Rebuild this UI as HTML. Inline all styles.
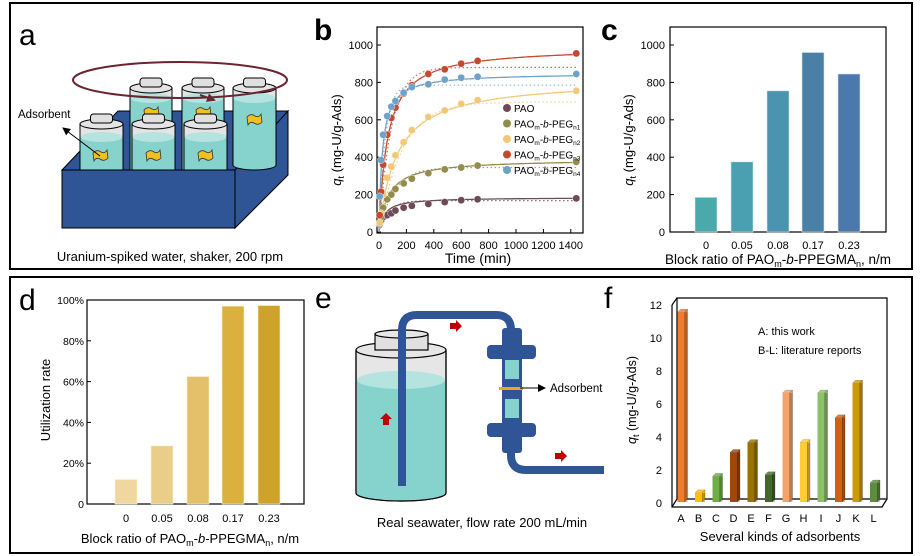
<!DOCTYPE html>
<html><head><meta charset="utf-8"><style>
html,body{margin:0;padding:0;background:#fff;}
svg{display:block;font-family:"Liberation Sans",Arial,sans-serif;}
</style></head><body>
<svg id="s" width="922" height="556" viewBox="0 0 922 556" xmlns="http://www.w3.org/2000/svg">
<defs>
<marker id="ah" markerUnits="userSpaceOnUse" markerWidth="8" markerHeight="8" refX="7" refY="4" orient="auto"><path d="M0,0 L8,4 L0,8 z" fill="#000"/></marker>
<marker id="ah2" markerUnits="userSpaceOnUse" markerWidth="9" markerHeight="9" refX="7" refY="4.5" orient="auto"><path d="M0,0 L9,4.5 L0,9 z" fill="#6b2530"/></marker>
</defs>
<rect x="10" y="3" width="902" height="266" fill="none" stroke="#000" stroke-width="2"/>
<rect x="10" y="277" width="902" height="276" fill="none" stroke="#000" stroke-width="2"/>

<!-- panel a -->
<text x="19" y="45" font-size="30">a</text>
<polygon points="62,170 118,111 288,111 235,170" fill="#2f5597" stroke="#000" stroke-width="1"/>
<polygon points="235,170 288,111 288,175 235,228" fill="#2f5597" stroke="#000" stroke-width="1"/>
<g id="jars"></g>
<ellipse cx="180" cy="80" rx="107" ry="18" fill="none" stroke="#6b2530" stroke-width="2"/>
<line x1="200" y1="95" x2="214" y2="100" stroke="#6b2530" stroke-width="2" marker-end="url(#ah2)"/>
<rect x="62" y="170" width="173" height="58" fill="#2f5597" stroke="#000" stroke-width="1"/>
<text x="18" y="118" font-size="11.5">Adsorbent</text>
<line x1="100" y1="156" x2="63" y2="128" stroke="#000" stroke-width="1" marker-end="url(#ah)"/>
<text x="170" y="261" font-size="13" text-anchor="middle">Uranium-spiked water, shaker, 200 rpm</text>

<!-- panel b -->
<text x="314" y="40" font-size="30" font-weight="bold">b</text>
<rect x="377" y="27" width="206" height="206" fill="none" stroke="#000" stroke-width="1.2"/>
<g id="bplot"></g>
<text transform="translate(341,140) rotate(-90)" font-size="13" text-anchor="middle"><tspan font-style="italic">q</tspan><tspan font-size="9" dy="3">t</tspan><tspan dy="-3"> (mg-U/g-Ads)</tspan></text>
<text x="478" y="263" font-size="14" text-anchor="middle">Time (min)</text>

<!-- panel c -->
<text x="601" y="40" font-size="30" font-weight="bold">c</text>
<rect x="670" y="27" width="216" height="205" fill="none" stroke="#000" stroke-width="1.2"/>
<g id="cplot"></g>
<text transform="translate(633,140) rotate(-90)" font-size="13" text-anchor="middle"><tspan font-style="italic">q</tspan><tspan font-size="9" dy="3">t</tspan><tspan dy="-3"> (mg-U/g-Ads)</tspan></text>
<text x="778" y="264" font-size="13.5" text-anchor="middle">Block ratio of PAO<tspan font-size="9" dy="3">m</tspan><tspan dy="-3">-</tspan><tspan font-style="italic">b</tspan>-PPEGMA<tspan font-size="9" dy="3">n</tspan><tspan dy="-3">, n/m</tspan></text>

<!-- panel d -->
<text x="19" y="310" font-size="30">d</text>
<rect x="87" y="300" width="217" height="204" fill="none" stroke="#000" stroke-width="1.2"/>
<g id="dplot"></g>
<text transform="translate(50,400) rotate(-90)" font-size="13" text-anchor="middle">Utilization rate</text>
<text x="190" y="543" font-size="13" text-anchor="middle">Block ratio of PAO<tspan font-size="9" dy="3">m</tspan><tspan dy="-3">-</tspan><tspan font-style="italic">b</tspan>-PPEGMA<tspan font-size="9" dy="3">n</tspan><tspan dy="-3">, n/m</tspan></text>

<!-- panel e -->
<text x="315" y="308" font-size="30">e</text>
<path d="M356,350 L356,493 A45,8 0 0 0 446,493 L446,350 Z" fill="#e6e6e6" stroke="#000" stroke-width="1.2"/>
<path d="M357,380 L357,493 A44,8 0 0 0 445,493 L445,380 Z" fill="#86d2cc"/>
<ellipse cx="401" cy="380" rx="44" ry="9" fill="#b5e3df"/>
<path d="M356,493 A45,8 0 0 0 446,493" fill="none" stroke="#000" stroke-width="1.2"/>
<ellipse cx="401" cy="350" rx="45" ry="8" fill="#e6e6e6" stroke="#000" stroke-width="1.2"/>
<rect x="375" y="334" width="53" height="16" fill="#e0e0e0" stroke="#000" stroke-width="1.2"/>
<ellipse cx="401.5" cy="334" rx="26.5" ry="4" fill="#e6e6e6" stroke="#000" stroke-width="1.2"/>
<line x1="356" y1="350" x2="356" y2="493" stroke="#000" stroke-width="1.2"/>
<line x1="446" y1="350" x2="446" y2="493" stroke="#000" stroke-width="1.2"/>
<path d="M402,486 L402,330 Q402,315 417,315 L496,315 Q511,315 511,330" fill="none" stroke="#2f5597" stroke-width="8"/>
<path d="M511,450 L511,455 Q511,470 526,470 L604,470" fill="none" stroke="#2f5597" stroke-width="8"/>
<rect x="502" y="328" width="20" height="125" rx="3" fill="#2f5597"/>
<rect x="487" y="345" width="49" height="14" rx="4" fill="#2f5597"/>
<rect x="487" y="423" width="49" height="14" rx="4" fill="#2f5597"/>
<rect x="505" y="360" width="14" height="19" fill="#86d2cc"/>
<rect x="505" y="399" width="14" height="19" fill="#86d2cc"/>
<rect x="499" y="387" width="24" height="3" fill="#f0a818"/>
<line x1="520" y1="388" x2="545" y2="388" stroke="#000" stroke-width="1" marker-end="url(#ah)"/>
<text x="550" y="392" font-size="11.5">Adsorbent</text>
<path d="M450,323 h6 v-3 l6,6 l-6,6 v-3 h-6 z" fill="#c00000"/>
<path d="M555,453 h6 v-3 l6,6 l-6,6 v-3 h-6 z" fill="#c00000"/>
<path d="M383,425 v-6 h-3 l6,-6 l6,6 h-3 v6 z" fill="#c00000"/>
<text x="482" y="527" font-size="13" text-anchor="middle">Real seawater, flow rate 200 mL/min</text>

<!-- panel f -->
<text x="604" y="308" font-size="30">f</text>
<g id="fplot"></g>
<text transform="translate(636,400) rotate(-90)" font-size="12.5" text-anchor="middle"><tspan font-style="italic">q</tspan><tspan font-size="9" dy="3">t</tspan><tspan dy="-3"> (mg-U/g-Ads)</tspan></text>
<text x="758" y="335" font-size="11">A: this work</text>
<text x="758" y="354" font-size="11">B-L: literature reports</text>
<text x="780" y="541" font-size="13" text-anchor="middle">Several kinds of adsorbents</text>
</svg>
<script>
var NS="http://www.w3.org/2000/svg";
function el(p,t,a,txt){var e=document.createElementNS(NS,t);for(var k in a)e.setAttribute(k,a[k]);if(txt!==undefined)e.textContent=txt;p.appendChild(e);return e;}
var J=document.getElementById("jars");
function jar(x,w,top,liq,bot,ad){
 var cx=x+w/2,ry=5;
 el(J,"path",{d:"M"+x+","+top+" L"+x+","+bot+" L"+(x+w)+","+bot+" L"+(x+w)+","+top+" Z",fill:"#e4e4e4",stroke:"#000","stroke-width":1});
 el(J,"rect",{x:x+0.5,y:liq,width:w-1,height:bot-liq,fill:"#86d2cc"});
 el(J,"ellipse",{cx:cx,cy:liq,rx:w/2-0.5,ry:ry,fill:"#b5e3df"});
 el(J,"line",{x1:x,y1:top,x2:x,y2:bot,stroke:"#000","stroke-width":1});
 el(J,"line",{x1:x+w,y1:top,x2:x+w,y2:bot,stroke:"#000","stroke-width":1});
 el(J,"path",{d:"M"+x+","+bot+" A"+(w/2)+","+ry+" 0 0 0 "+(x+w)+","+bot,fill:"#86d2cc",stroke:"#000","stroke-width":1});
 el(J,"ellipse",{cx:cx,cy:top,rx:w/2,ry:ry,fill:"#e4e4e4",stroke:"#000","stroke-width":1});
 el(J,"rect",{x:cx-11,y:top-10,width:22,height:9,rx:3,fill:"#e0e0e0",stroke:"#000","stroke-width":1});
 if(ad){var a=ad[0],b=ad[1];el(J,"path",{d:"M"+(a-7)+","+(b-3)+" q4,-4 8,-1 q4,2 6,-2 l1,8 q-4,4 -8,1 q-4,-2 -6,2 z",fill:"#f0c020",stroke:"#333","stroke-width":0.8});}
}
jar(130,42,88,98,172,[151,113]);jar(182,42,88,98,172,[203,113]);jar(233,43,88,98,165,[254,120]);
jar(80,43,124,137,175,[100,156]);jar(132,43,124,137,175,[153,156]);jar(184,43,124,137,175,[205,156]);
var B=document.getElementById("bplot");
function bx(t){return 379+t*0.137;}function by(q){return 232-q*0.187;}
for(var i=0;i<=5;i++){var q=i*200;el(B,"line",{x1:377,y1:by(q),x2:381,y2:by(q),stroke:"#000"});el(B,"text",{x:373,y:by(q)+4,"font-size":11,"text-anchor":"end"},""+q);}
for(var i=0;i<=7;i++){var t=i*200;el(B,"line",{x1:bx(t),y1:233,x2:bx(t),y2:229,stroke:"#000"});el(B,"text",{x:bx(t),y:249,"font-size":11,"text-anchor":"middle"},""+t);}
var T=[5,15,30,60,90,120,180,240,360,480,600,720,1440];
var S=[
 {c:"#6e4a57",d:[40,60,80,90,100,115,130,140,150,160,170,175,180],qe:185,th:40,pe:168,tau:70},
 {c:"#948c4c",d:[45,80,130,175,200,230,260,285,315,335,345,355,375],qe:390,th:70,pe:345,tau:110},
 {c:"#f0c878",d:[50,100,200,290,350,410,480,545,615,650,685,705,755],qe:820,th:130,pe:695,tau:170},
 {c:"#c5492f",d:[90,215,360,520,610,665,740,785,845,870,900,915,955],qe:990,th:62,pe:880,tau:90},
 {c:"#6fa2c8",d:[190,385,520,620,670,700,745,775,790,815,825,830,845],qe:850,th:25,pe:785,tau:45}];
S.forEach(function(s){
 var p1="",p2="";for(var t=0;t<=1440;t+=(t<200?2:10)){p1+=(t?"L":"M")+bx(t).toFixed(1)+","+by(s.qe*t/(t+s.th)).toFixed(1);p2+=(t?"L":"M")+bx(t).toFixed(1)+","+by(s.pe*(1-Math.exp(-t/s.tau))).toFixed(1);}
 el(B,"path",{d:p2,fill:"none",stroke:s.c,"stroke-width":1.2,"stroke-dasharray":"1.5,2.5",opacity:0.8});
 el(B,"path",{d:p1,fill:"none",stroke:s.c,"stroke-width":1.3});
});
S.forEach(function(s){T.forEach(function(t,i){el(B,"circle",{cx:bx(t),cy:by(s.d[i]),r:3.6,fill:s.c,stroke:"#fff","stroke-width":0.4});});});
S.forEach(function(s,i){var y=108+i*15.5;el(B,"circle",{cx:507,cy:y,r:4,fill:s.c});
 var tx=el(B,"text",{x:514,y:y+4,"font-size":10});
 if(i==0){tx.textContent="PAO";}else{
  el(tx,"tspan",{},"PAO");el(tx,"tspan",{"font-size":6.5,dy:2},"m");el(tx,"tspan",{dy:-2},"-");el(tx,"tspan",{"font-style":"italic"},"b");el(tx,"tspan",{},"-PEG");el(tx,"tspan",{"font-size":6.5,dy:2},"n"+i);}
});
var C=document.getElementById("cplot");
function cy(q){return 232-q*0.187;}
for(var i=0;i<=5;i++){var q=i*200;el(C,"line",{x1:670,y1:cy(q),x2:674,y2:cy(q),stroke:"#000"});el(C,"text",{x:665,y:cy(q)+4,"font-size":11,"text-anchor":"end"},""+q);}
var cx=[706,742,778,813,849],cv=[185,375,755,960,845],cc=["#4aa9ab","#4a9fb1","#4b94b0","#4a80a8","#4b78ad"],cl=["0","0.05","0.08","0.17","0.23"];
cx.forEach(function(x,i){el(C,"rect",{x:x-11,y:cy(cv[i]),width:22,height:232-cy(cv[i]),fill:cc[i],stroke:"#cfe6ee","stroke-width":0.6});el(C,"text",{x:x,y:249,"font-size":11,"text-anchor":"middle"},cl[i]);});
var D=document.getElementById("dplot");
function dy(p){return 504-p*2.04;}
for(var i=0;i<=5;i++){var p=i*20;el(D,"line",{x1:87,y1:dy(p),x2:91,y2:dy(p),stroke:"#000"});el(D,"text",{x:84,y:dy(p)+4,"font-size":10.5,"text-anchor":"end"},p?p+"%":"0");}
var dx=[126,162,198,233,269],dv=[12,28.5,62.5,97,97.3],dc=["#f0d7a0","#ebcd8a","#e4c06a","#dcb03e","#cfa32a"];
dx.forEach(function(x,i){el(D,"rect",{x:x-11,y:dy(dv[i]),width:22,height:504-dy(dv[i]),fill:dc[i],stroke:"#fbf0d0","stroke-width":0.6});el(D,"text",{x:x,y:522,"font-size":11,"text-anchor":"middle"},cl[i]);});
var F=document.getElementById("fplot");
function fy(v){return 502-v*16.5;}
el(F,"polygon",{points:"677,298 887,298 887,499 677,499",fill:"none",stroke:"#000","stroke-width":1.2});
el(F,"polyline",{points:"672,305 672,507 882,507 887,499",fill:"none",stroke:"#000","stroke-width":1.2});
el(F,"line",{x1:672,y1:305,x2:677,y2:298,stroke:"#000","stroke-width":1.2});
el(F,"line",{x1:672,y1:507,x2:677,y2:499,stroke:"#000","stroke-width":1.2});
for(var i=0;i<=6;i++){var v=i*2;el(F,"text",{x:662,y:fy(v)+5,"font-size":11,"text-anchor":"end"},""+v);}
var fv=[11.5,0.55,1.55,3.0,3.6,1.65,6.6,3.6,6.6,5.1,7.2,1.15];
var fc=["#ed7d31","#ffc000","#70ad47","#9e480e","#997300","#43682b","#f4a46a","#ffcd33","#8cc168","#d26012","#cc9a06","#5f8d3f"];
var fl="ABCDEFGHIJKL";
fv.forEach(function(v,i){var x=681+i*17.5,top=fy(v),w=7;
 el(F,"polygon",{points:(x-w/2)+","+top+" "+(x+w/2)+","+top+" "+(x+w/2+3)+","+(top-3)+" "+(x-w/2+3)+","+(top-3),fill:fc[i],stroke:"#000","stroke-width":0.2,opacity:0.8});
 el(F,"polygon",{points:(x+w/2)+","+top+" "+(x+w/2+3)+","+(top-3)+" "+(x+w/2+3)+",499 "+(x+w/2)+",502",fill:fc[i],stroke:"#000","stroke-width":0.2});
 el(F,"rect",{x:x-w/2,y:top,width:w,height:502-top,fill:fc[i]});
 el(F,"rect",{x:x+w/2,y:top,width:3,height:502-top,fill:"#000",opacity:0.25});
 el(F,"text",{x:x,y:522,"font-size":11,"text-anchor":"middle"},fl[i]);
});
</script>
</body></html>
